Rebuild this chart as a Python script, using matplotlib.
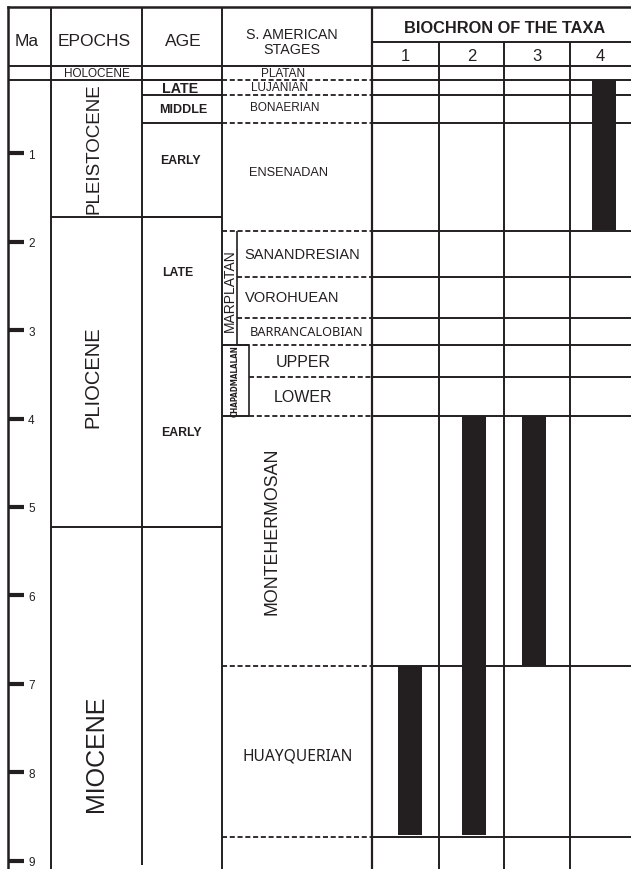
import matplotlib
matplotlib.use('Agg')
import matplotlib.pyplot as plt
from matplotlib.patches import Rectangle

# ---------------- data (Ma) ----------------
epochs = ['HOLOCENE', 'PLEISTOCENE', 'PLIOCENE', 'MIOCENE']
epoch_top = [0.01, 0.17, 1.72, 5.23]
epoch_base = [0.17, 1.72, 5.23, 9.3]

ages = ['LATE', 'MIDDLE', 'EARLY', 'LATE', 'EARLY']
age_boundaries = [0.17, 0.34, 0.656, 1.72, 5.23]
age_label_ma = [0.255, 0.50, 1.08, 2.34, 4.15]

stages = ['PLATAN', 'LUJANIAN', 'BONAERIAN', 'ENSENADAN', 'SANANDRESIAN',
          'VOROHUEAN', 'BARRANCALOBIAN', 'UPPER', 'LOWER', 'MONTEHERMOSAN',
          'HUAYQUERIAN']
stage_top = [0.01, 0.17, 0.34, 0.656, 1.878, 2.40, 2.86, 3.17, 3.53, 3.97, 6.80]
stage_base = [0.17, 0.34, 0.656, 1.878, 2.40, 2.86, 3.17, 3.53, 3.97, 6.80, 8.73]

groups = ['MARPLATAN', 'CHAPADMALALAN']
group_top = [1.878, 3.17]
group_base = [3.17, 3.97]

taxa = ['1', '2', '3', '4']
taxon_oldest = [8.71, 8.71, 6.80, 1.867]
taxon_youngest = [6.80, 3.97, 3.97, 0.17]

ma_ticks = [1, 2, 3, 4, 5, 6, 7, 8, 9]

# ---------------- layout (pixel-like x units) ----------------
C = '#231f20'
X0, X_MA, X_EP, X_AGE, X_ST, X_END = 8, 51, 142, 222, 372, 631
TAXA_EDGES = [372, 439, 504, 570, 631]
BAR_CX = [410, 474, 534, 604]
BAR_W = 24
X_MARP = 237   # right edge of Marplatan box
X_CHAP = 249   # right edge of Chapadmalalan box
HEADER_BOTTOM = 0.01
HEADER_SUB = -0.26
Y_TOP, Y_BOT = -0.656, 9.095

SANS = ['Liberation Sans', 'DejaVu Sans']
COND = ['Noto Sans', 'Liberation Sans']
LW = 1.4
DASH = (0, (2.8, 1.5))

fig = plt.figure(figsize=(6.31, 8.70), dpi=100)
ax = fig.add_axes([X0 / 631, 0, (631 - X0) / 631, (870 - 8) / 870])
ax.set_xlim(X0, X_END)
ax.set_ylim(Y_BOT, Y_TOP)
for s in ['right', 'bottom']:
    ax.spines[s].set_visible(False)
for s in ['left', 'top']:
    ax.spines[s].set_linewidth(1.8)
    ax.spines[s].set_color(C)
ax.set_xticks([])
ax.set_yticks(ma_ticks)
ax.set_yticklabels([str(t) for t in ma_ticks])
ax.tick_params(axis='y', direction='in', length=11.5, width=3.0, color=C,
               pad=-14.5, labelsize=8.5, labelcolor=C)
for lbl in ax.get_yticklabels():
    lbl.set_ha('left')
    lbl.set_fontfamily(SANS)

def hs(y, x0, x1, **kw):
    ax.hlines(y, x0, x1, colors=C, linewidth=LW, **kw)

def hd(y, x0, x1):
    ax.hlines(y, x0, x1, colors=C, linewidth=1.3, linestyles=[DASH])

def vs(x, y0, y1, lw=LW):
    ax.vlines(x, y0, y1, colors=C, linewidth=lw)

# vertical column lines
vs(X_MA, Y_TOP, Y_BOT)
vs(X_EP, Y_TOP, 9.05)
vs(X_AGE, Y_TOP, Y_BOT)
vs(X_ST, Y_TOP, Y_BOT, lw=1.6)
for xe in TAXA_EDGES[1:-1]:
    vs(xe, HEADER_SUB, Y_BOT)

# header lines
hs(HEADER_SUB, X_ST, X_END)
hs(HEADER_BOTTOM, X0, X_END)

# epoch boundaries
hs(epoch_base[0], X0, X_AGE)
for b in epoch_base[1:3]:
    hs(b, X_MA, X_AGE)

# age boundaries
for b in age_boundaries:
    hs(b, X_EP, X_AGE)

# stage boundaries: dashed in stage column, solid in taxa columns
for i, b in enumerate(stage_base):
    if stage_top[i] >= group_top[0] and b <= group_base[0]:
        x_start = X_MARP
    elif stage_top[i] >= group_top[1] and b <= group_base[1]:
        x_start = X_CHAP
    else:
        x_start = X_AGE
    hd(b, x_start, X_ST)
    hs(b, X_ST, X_END)

# group boxes
vs(X_MARP, group_top[0], group_base[0], lw=1.2)
vs(X_CHAP, group_top[1], group_base[1], lw=1.2)
hs(group_base[0], X_AGE, X_CHAP)
hs(group_base[1], X_AGE, X_CHAP)

# biochron bars
for i, t in enumerate(taxa):
    ax.add_patch(Rectangle((BAR_CX[i] - BAR_W / 2, taxon_youngest[i]), BAR_W,
                           taxon_oldest[i] - taxon_youngest[i],
                           facecolor=C, edgecolor='none', zorder=3))

# ---------------- texts ----------------
def T(x, y, s, size, **kw):
    fam = kw.pop('family', SANS)
    ax.text(x, y, s, fontsize=size, color=C, ha='center', va='center',
            family=fam, **kw)

hdr_y = (Y_TOP + HEADER_BOTTOM) / 2 + 0.05
T(27, hdr_y, 'Ma', 12.5)
T(94, hdr_y, 'EPOCHS', 12.5)
T(183, hdr_y, 'AGE', 12.5)
T(292, hdr_y - 0.08, 'S. AMERICAN', 10.3)
T(292, hdr_y + 0.09, 'STAGES', 10.3)
T(505, (Y_TOP + HEADER_SUB) / 2 + 0.03, 'BIOCHRON OF THE TAXA', 11.8,
  fontweight='bold')
for i, t in enumerate(taxa):
    T((TAXA_EDGES[i] + TAXA_EDGES[i + 1]) / 2,
      (HEADER_SUB + HEADER_BOTTOM) / 2 + 0.02, t, 12)

# epochs
T(97, (epoch_top[0] + epoch_base[0]) / 2, epochs[0], 8.5)
T(94, 0.935, epochs[1], 13.5, rotation=90)
T(93, 3.52, epochs[2], 14.5, rotation=90)
T(96, 7.78, epochs[3], 18, rotation=90)

# ages
age_x = [180, 183, 180, 178, 181]
age_sz = [10.3, 9.0, 8.8, 8.8, 8.8]
for i, a in enumerate(ages):
    T(age_x[i], age_label_ma[i], a, age_sz[i], fontweight='bold')

# stages
stage_x = [283, 280, 285, 288, 302, 292, 307, 303, 303, 272, 298]
stage_sz = [8.5, 8.5, 8.5, 9.2, 10.5, 10.5, 9.2, 11.5, 11.5, 12.8, 11.2]
stage_rot = [0, 0, 0, 0, 0, 0, 0, 0, 0, 90, 0]
stage_dy = [0.0, -0.01, -0.02, -0.057, 0, 0, 0, 0, 0, -0.12, 0.05]
stage_stretch = ['normal'] * 6 + ['condensed'] + ['normal'] * 3 + ['condensed']
stage_fam = [SANS] * 6 + [COND] + [SANS] * 3 + [COND]
for i, s in enumerate(stages):
    T(stage_x[i], (stage_top[i] + stage_base[i]) / 2 + stage_dy[i], s,
      stage_sz[i], rotation=stage_rot[i], family=stage_fam[i],
      fontstretch=stage_stretch[i])

# groups
T(229.5, (group_top[0] + group_base[0]) / 2 + 0.02, groups[0], 10, rotation=90)
T(235.5, (group_top[1] + group_base[1]) / 2, groups[1], 5.8, rotation=90,
  family=['DejaVu Sans'], fontstretch='condensed', fontweight='bold')

fig.savefig('out.png', dpi=100)
